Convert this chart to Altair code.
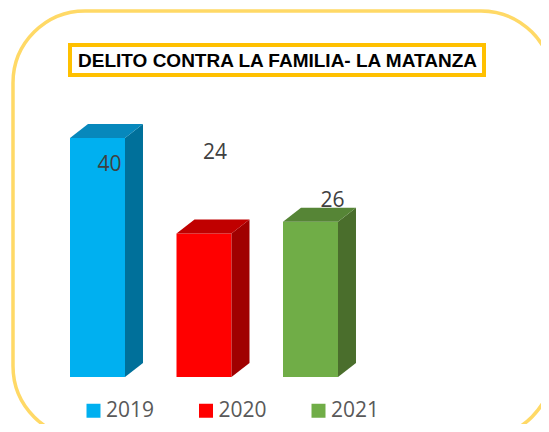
import altair as alt
import pandas as pd

# ---- data ----
TITLE = "DELITO CONTRA LA FAMILIA- LA MATANZA"
YEARS = ["2019", "2020", "2021"]
VALUES = [40, 24, 26]
FRONT = ["#00B0F0", "#FF0000", "#70AD47"]
TOP = ["#0788BC", "#C00000", "#568536"]
SIDE = ["#00709A", "#A00000", "#4A6E2C"]

# ---- 3D geometry (style constants, in scale units) ----
BW = 0.5164   # front face width
DX = 0.169    # depth in x
DY = 2.343    # depth in y

front = pd.DataFrame({
    "year": YEARS,
    "value": VALUES,
    "xl": [i for i in range(len(YEARS))],
    "xr": [i + BW for i in range(len(YEARS))],
    "xc": [i + BW / 2 for i in range(len(YEARS))],
})

rows = []
for i, (yr, v) in enumerate(zip(YEARS, VALUES)):
    xl, xr = i, i + BW
    # side face
    rows += [
        dict(year=yr, face="side", x=xr, lo=0, hi=v, color=SIDE[i]),
        dict(year=yr, face="side", x=xr + DX, lo=DY, hi=v + DY, color=SIDE[i]),
    ]
    # top face
    rows += [
        dict(year=yr, face="top", x=xl, lo=v, hi=v, color=TOP[i]),
        dict(year=yr, face="top", x=xl + DX, lo=v, hi=v + DY, color=TOP[i]),
        dict(year=yr, face="top", x=xr, lo=v, hi=v + DY, color=TOP[i]),
        dict(year=yr, face="top", x=xr + DX, lo=v + DY, hi=v + DY, color=TOP[i]),
    ]
faces = pd.DataFrame(rows)
faces["key"] = faces["year"] + "-" + faces["face"]

xs = alt.Scale(domain=[0, 2], range=[62, 275], zero=False, nice=False)
ys = alt.Scale(domain=[0, 40], range=[369, 130], zero=False, nice=False)

deco = pd.DataFrame({"title": [TITLE]})

outer = alt.Chart(deco).mark_rect(
    cornerRadius=72, fill="white", fillOpacity=0, stroke="#FFD966", strokeWidth=3.5
).encode(x=alt.value(5), x2=alt.value(545), y=alt.value(3), y2=alt.value(430))

title_box = alt.Chart(deco).mark_rect(
    fill="white", stroke="#FFC000", strokeWidth=4
).encode(x=alt.value(62), x2=alt.value(476), y=alt.value(37), y2=alt.value(67))

title_text = alt.Chart(deco).mark_text(
    font="Liberation Sans", fontWeight="bold", fontSize=19, color="#000000",
    align="center", baseline="middle"
).encode(x=alt.value(269.5), y=alt.value(53), text="title:N")

bars = alt.Chart(front).mark_rect().encode(
    x=alt.X("xl:Q", scale=xs, axis=None),
    x2="xr:Q",
    y=alt.Y("value:Q", scale=ys, axis=None),
    y2=alt.datum(0),
    color=alt.Color("year:N", scale=alt.Scale(domain=YEARS, range=FRONT),
                    legend=alt.Legend(title=None)),
)

face_layer = alt.Chart(faces).mark_area().encode(
    x=alt.X("x:Q", scale=xs, axis=None),
    y=alt.Y("lo:Q", scale=ys, axis=None, stack=None),
    y2="hi:Q",
    detail="key:N",
    fill=alt.Fill("color:N", scale=None),
)

label_offsets = {"2019": (12, 26.5), "2020": (11, -81), "2021": (22, -20.5)}
labels = []
for yr in YEARS:
    dx, dy = label_offsets[yr]
    labels.append(
        alt.Chart(front).transform_filter(alt.datum.year == yr).mark_text(
            font="Open Sans", fontSize=21, color="#404040",
            align="center", baseline="middle", dx=dx, dy=dy
        ).encode(
            x=alt.X("xc:Q", scale=xs, axis=None),
            y=alt.Y("value:Q", scale=ys, axis=None),
            text="value:Q",
        )
    )

chart = alt.layer(outer, title_box, title_text, bars, face_layer, *labels).properties(
    width=533, height=416, padding=0, autosize=alt.AutoSizeParams(type="none")
).configure_view(
    stroke=None
).configure_legend(
    orient="none", legendX=75, legendY=392, direction="horizontal", columns=3,
    symbolType="square", symbolSize=196, symbolStrokeWidth=0,
    labelFont="Open Sans", labelFontSize=21, labelColor="#595959",
    labelOffset=2, columnPadding=40.5, padding=0, gridAlign="all"
)

chart.save("out.html", embed_options={"renderer": "svg", "actions": False})
